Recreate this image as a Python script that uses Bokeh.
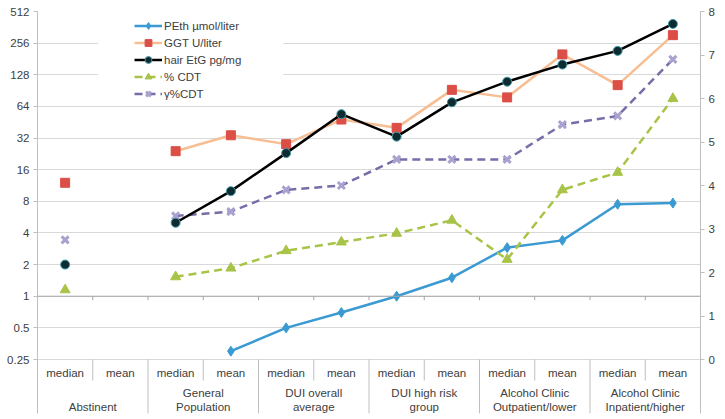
import math
from bokeh.plotting import figure
from bokeh.models import (Range1d, LinearScale, LinearAxis, FixedTicker, CustomJSTickFormatter,
                          Span, Legend, LegendItem, BoxAnnotation)
from bokeh.core.properties import value
from bokeh.embed import file_html
from bokeh.resources import INLINE

# ---------------- data ----------------
groups = ["Abstinent", "General Population", "DUI overall average", "DUI high risk group",
          "Alcohol Clinic Outpatient/lower", "Alcohol Clinic Inpatient/higher"]
group_line1 = ["", "General", "DUI overall", "DUI high risk", "Alcohol Clinic", "Alcohol Clinic"]
group_line2 = ["Abstinent", "Population", "average", "group", "Outpatient/lower", "Inpatient/higher"]
stats = ["median", "mean"]
left_ticks = [0.25, 0.5, 1, 2, 4, 8, 16, 32, 64, 128, 256, 512]
right_ticks = [0, 1, 2, 3, 4, 5, 6, 7, 8]

nan = float("nan")
# left (log2) axis series
peth = [nan, nan, nan, 0.3, 0.5, 0.7, 1.0, 1.5, 2.9, 3.4, 7.5, 7.7]
ggt = [12, nan, 24, 34, 28, 48, 40, 92, 78, 200, 102, 305]
etg = [2, nan, 5, 10, 23, 54, 33, 70, 110, 160, 216, 390]
# right (linear) axis series
cdt = [1.6, nan, 1.9, 2.1, 2.5, 2.7, 2.9, 3.2, 2.3, 3.9, 4.3, 6.0]
gcdt = [2.75, nan, 3.3, 3.4, 3.9, 4.0, 4.6, 4.6, 4.6, 5.4, 5.6, 6.9]

labels = ["PEth \u00b5mol/liter", "GGT U/liter", "hair EtG pg/mg", "% CDT", "\u03b3%CDT"]

# ---------------- geometry ----------------
W, H = 725, 419
BL, BR, BT, BB = 37, 25, 11, 6
FRAME_H = H - BT - BB
CHART_PX = 348                      # pixels from 0.25 to 512
TABLE_PX = FRAME_H - CHART_PX       # category table under the chart
PPD = CHART_PX / math.log2(left_ticks[-1] / left_ticks[0])
Y_LO = left_ticks[0] * 2 ** (-TABLE_PX / PPD)
PPU = CHART_PX / right_ticks[-1]
R_LO = -TABLE_PX / PPU


def below(px, base=left_ticks[0]):
    return base * 2 ** (-px / PPD)


n = len(groups) * len(stats)
xs = [i + 0.5 for i in range(n)]

FONT = value("Liberation Sans")
TXT = "#404040"
FS = "11.5px"
GRID = "#d9d9d9"
AX = "#bfbfbf"

p = figure(width=W, height=H, y_axis_type="log",
           x_range=Range1d(0, n), y_range=Range1d(Y_LO, left_ticks[-1]),
           x_axis_location=None, output_backend="svg", toolbar_location=None,
           min_border_left=BL, min_border_right=BR, min_border_top=BT, min_border_bottom=BB)
p.outline_line_color = None
p.background_fill_color = "white"
p.border_fill_color = "white"

p.extra_y_ranges = {"right": Range1d(R_LO, right_ticks[-1])}
p.extra_y_scales = {"right": LinearScale()}

# left axis
ya = p.yaxis[0]
ya.ticker = FixedTicker(ticks=left_ticks)
ya.formatter = CustomJSTickFormatter(code="return tick.toString()")
ya.major_tick_in = 0
ya.major_tick_out = 4
ya.minor_tick_line_color = None
ya.axis_line_color = AX
ya.major_tick_line_color = AX
ya.major_label_text_font = "Liberation Sans"
ya.major_label_text_font_size = FS
ya.major_label_text_color = TXT
ya.major_label_standoff = 4

p.ygrid.ticker = FixedTicker(ticks=left_ticks)
p.ygrid.grid_line_color = GRID
p.xgrid.grid_line_color = None

ra = LinearAxis(y_range_name="right", ticker=FixedTicker(ticks=right_ticks))
ra.major_tick_in = 0
ra.major_tick_out = 4
ra.minor_tick_line_color = None
ra.axis_line_color = AX
ra.major_tick_line_color = AX
ra.major_label_text_font = "Liberation Sans"
ra.major_label_text_font_size = FS
ra.major_label_text_color = TXT
ra.major_label_standoff = 4
p.add_layout(ra, "right")

# category axis line at 1 with ticks
p.add_layout(Span(location=1, dimension="width", line_color="#a6a6a6", line_width=1))
bx = list(range(1, n))
p.segment(x0=bx, y0=[1] * len(bx), x1=bx, y1=[below(4, 1)] * len(bx), line_color="#a6a6a6", line_width=1)

# category table under the chart
p.segment(x0=bx, y0=[left_ticks[0]] * len(bx), x1=bx,
          y1=[Y_LO if b % 2 == 0 else below(21) for b in bx], line_color=AX, line_width=1)
sub = [stats[i % 2] for i in range(n)]
p.text(x=xs, y=[below(13.7)] * n, text=sub, text_align="center", text_baseline="middle",
       text_font=FONT, text_font_size=FS, text_color=TXT)
gx = [2 * g + 1 for g in range(len(groups))]
p.text(x=gx, y=[below(33.7)] * len(groups), text=group_line1, text_align="center", text_baseline="middle",
       text_font=FONT, text_font_size=FS, text_color=TXT)
p.text(x=gx, y=[below(47)] * len(groups), text=group_line2, text_align="center", text_baseline="middle",
       text_font=FONT, text_font_size=FS, text_color=TXT)

# series
C_PETH = "#3a9ad1"
C_GGT_L = "#f7be93"
C_GGT_M = "#db4f47"
C_ETG = "#000000"
C_CDT = "#a8c448"
C_GC_L = "#7a6ca8"
C_GC_M = "#a9a2cf"

l1 = p.line(xs, peth, line_color=C_PETH, line_width=2.5)
m1 = p.scatter(xs, peth, marker="diamond", size=10, fill_color=C_PETH, line_color=C_PETH)
l2 = p.line(xs, ggt, line_color=C_GGT_L, line_width=2.5)
m2 = p.scatter(xs, ggt, marker="square", size=9, fill_color=C_GGT_M, line_color=C_GGT_M)
l4 = p.line(xs, cdt, line_color=C_CDT, line_width=2.5, line_dash="8 5", y_range_name="right")
m4 = p.scatter(xs, cdt, marker="triangle", size=10, fill_color=C_CDT, line_color=C_CDT, y_range_name="right")
l5 = p.line(xs, gcdt, line_color=C_GC_L, line_width=2.5, line_dash="8 5", y_range_name="right")
m5 = p.scatter(xs, gcdt, marker="x", size=10, line_color=C_GC_M, line_width=3, y_range_name="right")
l3 = p.line(xs, etg, line_color=C_ETG, line_width=2.5)
m3 = p.scatter(xs, etg, marker="circle", size=9, fill_color="#0f2b32", line_color="#3f9aa6", line_width=1)

# white area behind legend
p.add_layout(BoxAnnotation(left=1.1, right=4.45, bottom=70, top=480,
                           fill_color="white", fill_alpha=1, line_color=None))

items = [LegendItem(label=labels[0], renderers=[l1, m1]),
         LegendItem(label=labels[1], renderers=[l2, m2]),
         LegendItem(label=labels[2], renderers=[l3, m3]),
         LegendItem(label=labels[3], renderers=[l4, m4]),
         LegendItem(label=labels[4], renderers=[l5, m5])]
LEG_PAD = 4
LEG_ROW = 17
leg_h = 2 * LEG_PAD + LEG_ROW * len(items)
legend = Legend(items=items, location=(97, FRAME_H + 2 - leg_h), padding=LEG_PAD, spacing=0,
                glyph_width=28, glyph_height=LEG_ROW, label_height=LEG_ROW, label_standoff=2,
                label_text_font="Liberation Sans", label_text_font_size=FS, label_text_color=TXT,
                background_fill_alpha=0, border_line_color=None, margin=0)
p.add_layout(legend)

open("out.html", "w").write(file_html(p, INLINE))
